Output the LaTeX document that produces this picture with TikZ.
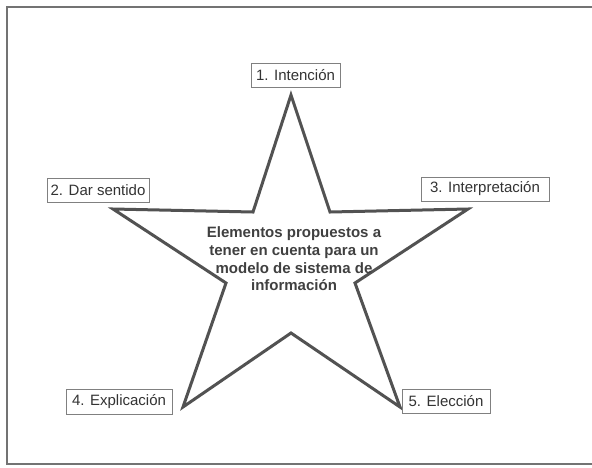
\documentclass[tikz,border=0pt]{standalone}
\usepackage{fontspec}
\setmainfont{Liberation Sans}
\begin{document}
\begin{tikzpicture}[x=1pt,y=-1pt,
  frameline/.style={draw=black!55, line width=1.2pt},
  starline/.style={draw=black!68, line width=3pt, line join=miter},
  lbl/.style={draw=black!50, line width=0.7pt, fill=white, inner sep=0pt, font=\fontsize{15}{17}\selectfont, text=black!80},
  centertext/.style={align=center, font=\bfseries\fontsize{15}{17.7}\selectfont, text=black!75, inner sep=0pt}]
\useasboundingbox (0,0) rectangle (592,467);
\fill[white] (0,0) rectangle (592,467);
\draw[frameline] (592,7) -- (7,7) -- (7,464) -- (592,464);
\draw[starline] (291,95) -- (330,212) -- (468,209) -- (355,283) -- (400,407)
  -- (291,333) -- (183,407) -- (226,283) -- (113,209) -- (253,212) -- cycle;
\node[lbl, minimum width=89pt, minimum height=24pt] (n1) at (295.5,75) {1. Intención};
\node[lbl, minimum width=102pt, minimum height=24pt] (n2) at (98,190) {2. Dar sentido};
\node[lbl, minimum width=128pt, minimum height=24pt] (n3) at (485,189) {3. Interpretación};
\node[lbl, minimum width=106pt, minimum height=25pt] (n4) at (119,401.5) {4. Explicación};
\node[lbl, minimum width=88pt, minimum height=24pt] (n5) at (446,401) {5. Elección};
\node[centertext] (c) at (294,259) {Elementos propuestos a\\tener en cuenta para un\\modelo de sistema de\\información};
\end{tikzpicture}
\end{document}
